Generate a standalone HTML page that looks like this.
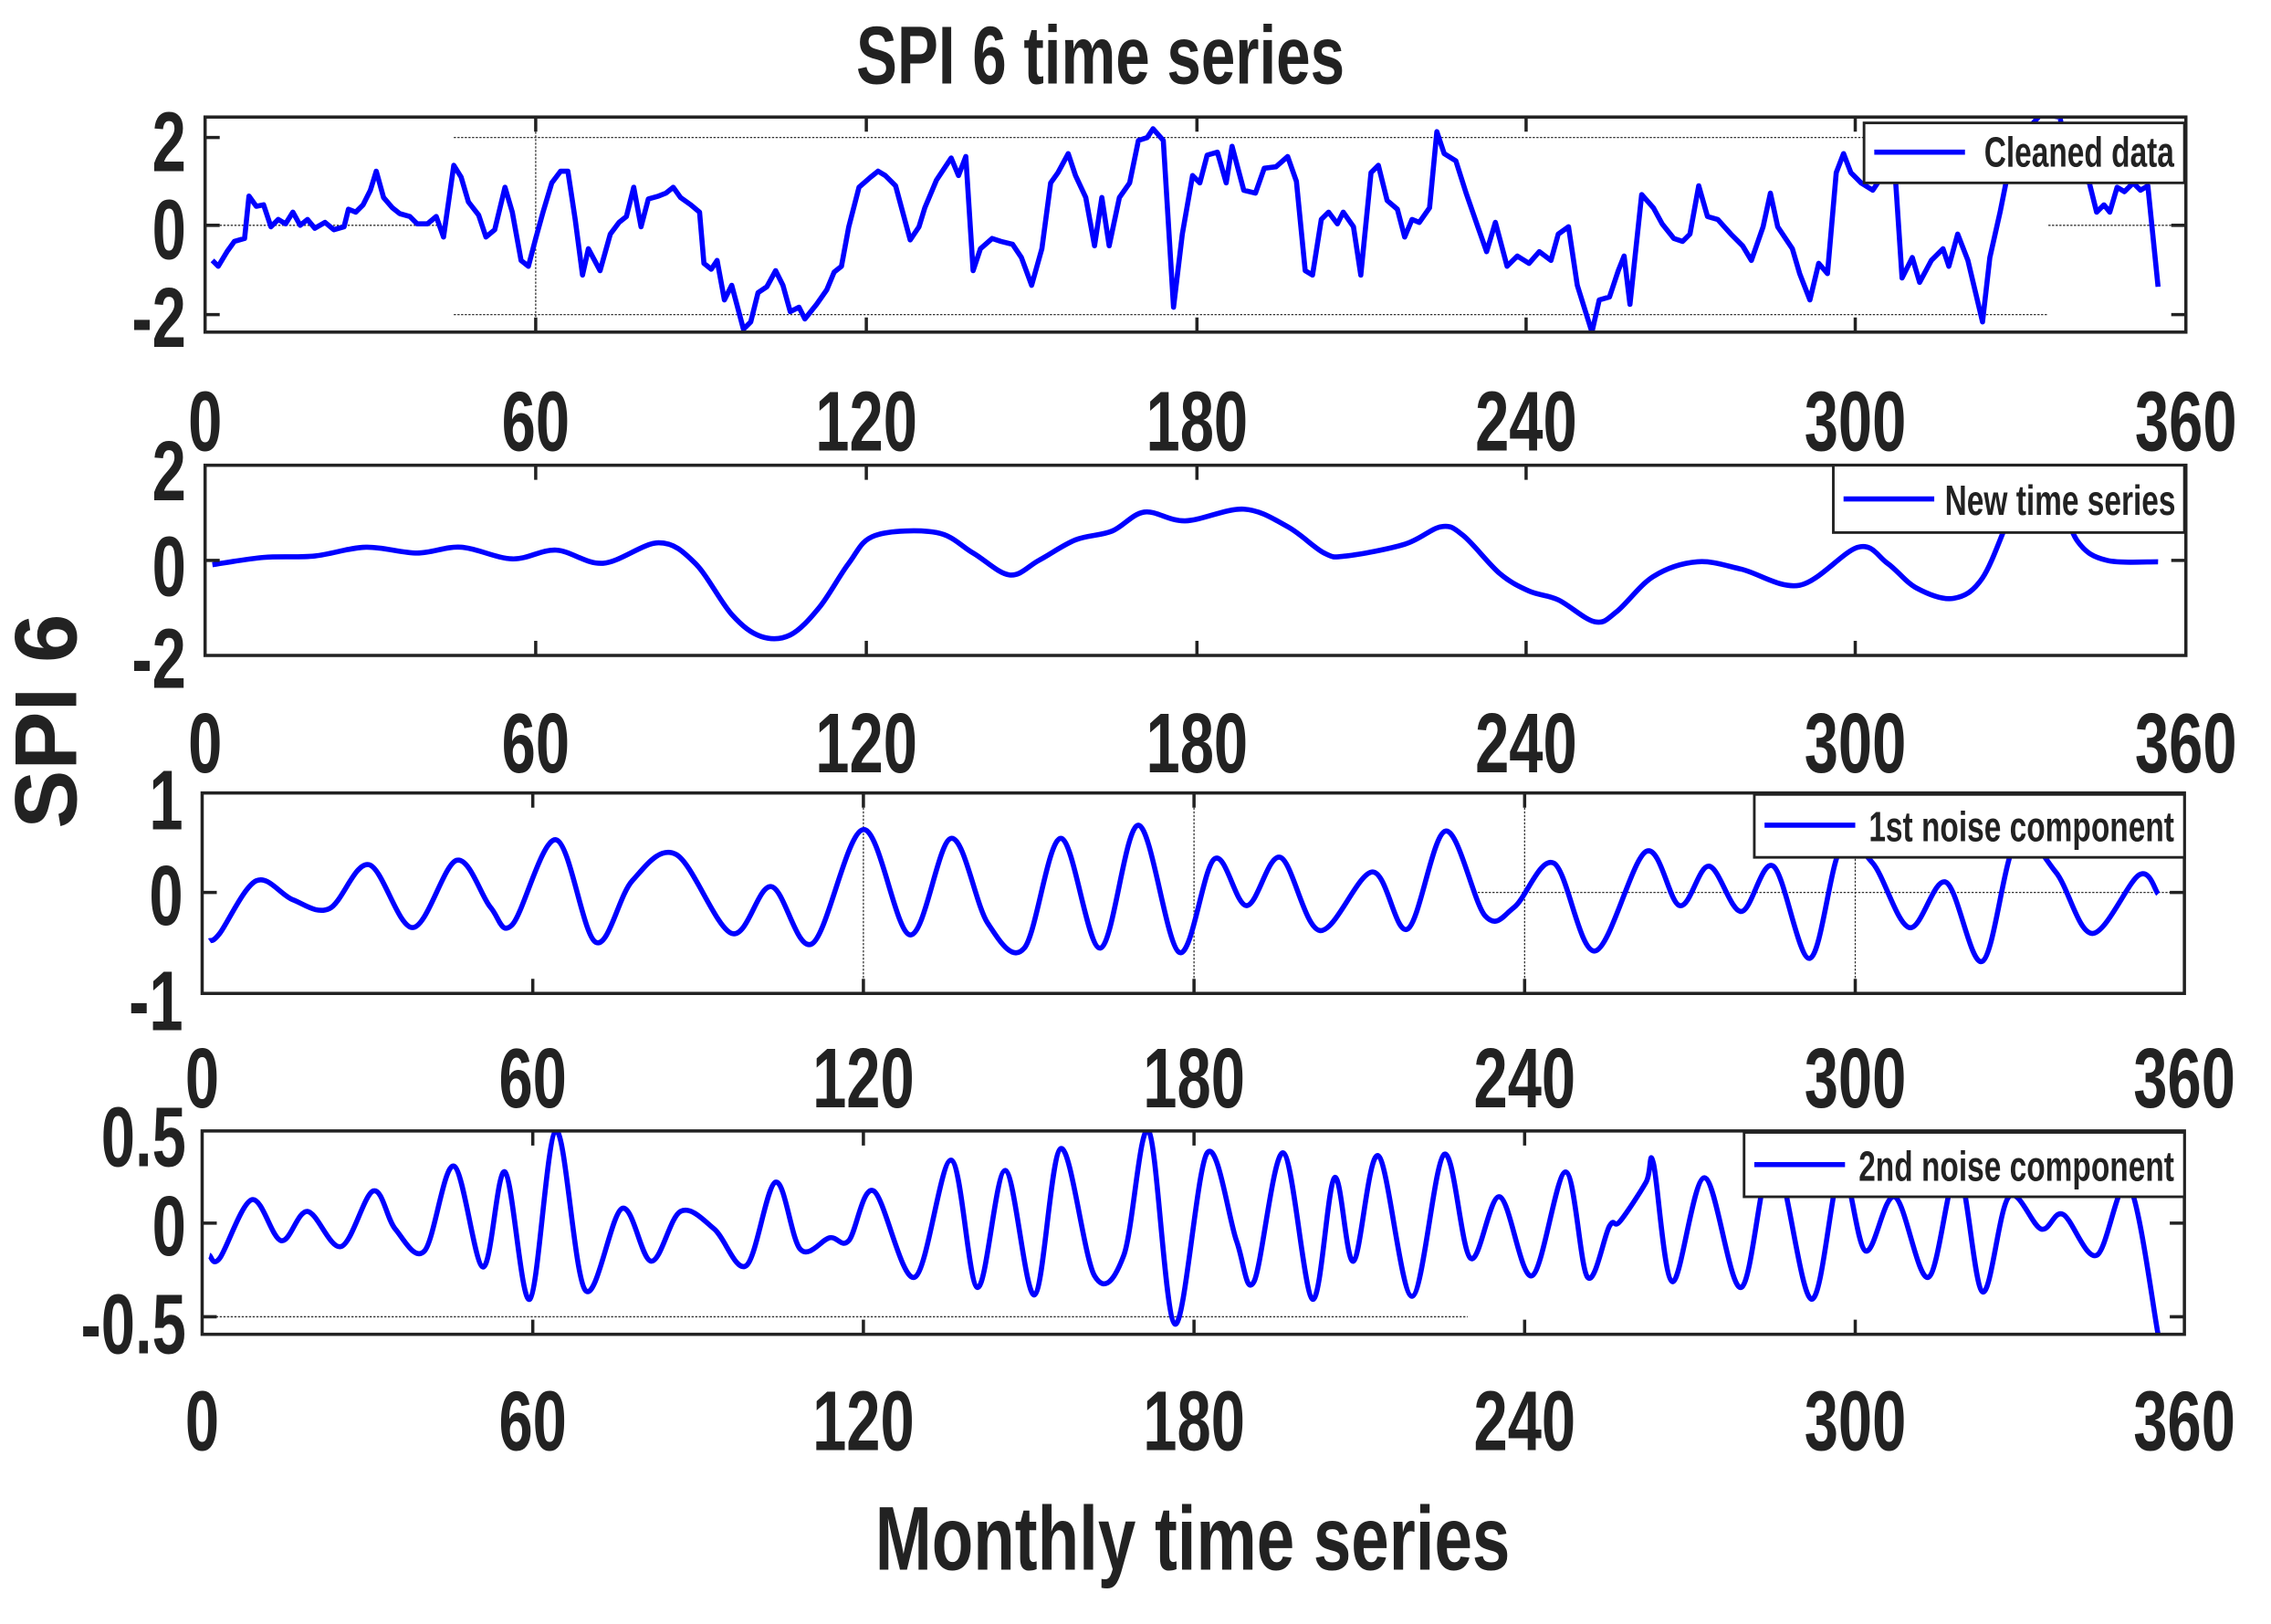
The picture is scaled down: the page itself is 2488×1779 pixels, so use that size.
<!DOCTYPE html>
<html><head><meta charset="utf-8"><style>
html,body{margin:0;padding:0;background:#fff}
svg{display:block}
text{font-family:"Liberation Sans",Arial,sans-serif;font-weight:bold;fill:#222}
</style></head><body>
<svg width="2488" height="1779" viewBox="0 0 1552 1110" xmlns="http://www.w3.org/2000/svg">
<defs>
<clipPath id="c1"><rect x="140" y="80" width="1354" height="147"/></clipPath>
<clipPath id="c2"><rect x="140" y="318" width="1354" height="130"/></clipPath>
<clipPath id="c3"><rect x="138" y="542" width="1355" height="137"/></clipPath>
<clipPath id="c4"><rect x="138" y="773" width="1355" height="139"/></clipPath>
</defs>
<g stroke="#333" stroke-width="0.8" stroke-dasharray="1.5,1" fill="none">
<line x1="310" y1="94" x2="1400" y2="94"/><line x1="310" y1="215" x2="1400" y2="215"/>
<line x1="140" y1="154" x2="300" y2="154"/><line x1="1400" y1="154" x2="1494" y2="154"/>
<line x1="366" y1="80" x2="366" y2="227"/>
<line x1="1010" y1="610" x2="1493" y2="610"/>
<line x1="590" y1="542" x2="590" y2="679"/><line x1="816" y1="542" x2="816" y2="679"/><line x1="1042" y1="542" x2="1042" y2="679"/><line x1="1268" y1="542" x2="1268" y2="679"/>
<line x1="140" y1="900" x2="1003" y2="900"/>
</g>
<g fill="none" stroke="#0000ff" stroke-width="3.5" stroke-linejoin="round">
<polyline clip-path="url(#c1)" points="145,178 149,182 155,172 160,165 167,163 170,134 175,141 180,140 185,155 190,150 195,153 200,145 205,154 210,150 215,156 222,152 228,157 235,155 238,143 243,145 248,140 253,130 257,117 262,135 268,142 273,146 280,148 285,153 292,153 298,148 303,162 310,113 315,121 320,138 327,147 332,162 338,157 345,128 350,145 356,178 361,182 366,163 371,145 377,125 383,117 388,117 393,150 398,188 402,170 410,185 417,160 423,152 428,148 433,128 438,155 443,136 450,134 455,132 460,128 465,135 472,140 478,145 481,180 486,184 490,178 495,205 500,195 508,225 513,220 518,200 524,196 530,185 535,195 540,213 546,210 550,218 558,208 565,198 570,186 575,182 580,155 587,128 595,121 600,117 605,120 612,127 622,164 628,155 632,142 640,123 650,108 655,120 660,107 665,185 670,170 678,163 684,165 692,167 698,176 705,195 712,170 718,125 723,118 730,105 735,120 742,135 748,168 753,135 758,168 765,135 772,125 778,96 784,94 788,88 795,96 802,210 808,160 815,120 820,125 825,106 832,104 838,125 842,100 850,130 858,132 864,115 872,114 880,107 886,124 892,185 897,188 903,150 908,145 914,153 918,145 925,155 930,188 937,118 942,113 948,137 955,143 960,162 965,150 970,152 977,142 982,90 987,105 995,110 1002,132 1010,155 1016,172 1022,152 1030,182 1037,175 1045,180 1052,172 1060,178 1065,160 1072,155 1078,195 1088,227 1093,205 1100,203 1106,185 1110,175 1114,208 1122,133 1130,142 1136,153 1144,163 1150,165 1155,160 1161,127 1167,148 1174,150 1183,160 1191,168 1197,178 1205,155 1210,132 1215,155 1225,170 1230,187 1237,205 1243,180 1249,187 1255,118 1260,105 1265,118 1272,125 1280,130 1288,118 1295,115 1300,190 1307,176 1312,193 1320,178 1328,170 1332,182 1338,160 1345,178 1355,220 1360,176 1367,145 1372,120 1380,95 1395,78 1408,80 1414,118 1420,120 1428,125 1433,145 1438,140 1442,145 1447,128 1452,131 1458,125 1463,130 1468,127 1475,196"/>
<path id="p2" clip-path="url(#c2)" d=""/>
<path id="p3" clip-path="url(#c3)" d=""/>
<path id="p4" clip-path="url(#c4)" d=""/>
</g>
<g fill="none" stroke="#222" stroke-width="2.2">
<rect x="140" y="80" width="1354" height="147"/>
<rect x="140" y="318" width="1354" height="130"/>
<rect x="138" y="542" width="1355" height="137"/>
<rect x="138" y="773" width="1355" height="139"/>
<path d="M366,80v10M592,80v10M818,80v10M1043,80v10M1268,80v10M366,227v-10M592,227v-10M818,227v-10M1043,227v-10M1268,227v-10M140,94h10M140,154h10M140,215h10M1494,94h-10M1494,154h-10M1494,215h-10"/>
<path d="M366,318v10M592,318v10M818,318v10M1043,318v10M1268,318v10M366,448v-10M592,448v-10M818,448v-10M1043,448v-10M1268,448v-10M140,383h10M1494,383h-10"/>
<path d="M364,542v10M590,542v10M816,542v10M1042,542v10M1268,542v10M364,679v-10M590,679v-10M816,679v-10M1042,679v-10M1268,679v-10M138,610h10M1493,610h-10"/>
<path d="M364,773v10M590,773v10M816,773v10M1042,773v10M1268,773v10M364,912v-10M590,912v-10M816,912v-10M1042,912v-10M1268,912v-10M138,836h10M138,900h10M1493,836h-10M1493,900h-10"/>
</g>
<g stroke="#222" stroke-width="1.8" fill="#fff">
<rect x="1274" y="84" width="219" height="41"/>
<rect x="1253" y="318" width="240" height="46"/>
<rect x="1199" y="543" width="294" height="43"/>
<rect x="1192" y="774" width="301" height="44"/>
</g>
<g stroke="#0000ff" stroke-width="3.5">
<line x1="1281" y1="104" x2="1343" y2="104"/>
<line x1="1260" y1="341" x2="1322" y2="341"/>
<line x1="1206" y1="564" x2="1268" y2="564"/>
<line x1="1199" y1="796" x2="1261" y2="796"/>
</g>
<g font-size="29" fill="#000">
<text transform="translate(1486,114) scale(0.72,1)" text-anchor="end">Cleaned data</text>
<text transform="translate(1487,352) scale(0.72,1)" text-anchor="end">New time series</text>
<text transform="translate(1486,575) scale(0.72,1)" text-anchor="end">1st noise component</text>
<text transform="translate(1486,807) scale(0.72,1)" text-anchor="end">2nd noise component</text>
</g>
<g font-size="58" text-anchor="middle">
<text transform="translate(140,308) scale(0.72,1)">0</text><text transform="translate(366,308) scale(0.72,1)">60</text><text transform="translate(592,308) scale(0.72,1)">120</text><text transform="translate(818,308) scale(0.72,1)">180</text><text transform="translate(1043,308) scale(0.72,1)">240</text><text transform="translate(1268,308) scale(0.72,1)">300</text><text transform="translate(1494,308) scale(0.72,1)">360</text>
<text transform="translate(140,528) scale(0.72,1)">0</text><text transform="translate(366,528) scale(0.72,1)">60</text><text transform="translate(592,528) scale(0.72,1)">120</text><text transform="translate(818,528) scale(0.72,1)">180</text><text transform="translate(1043,528) scale(0.72,1)">240</text><text transform="translate(1268,528) scale(0.72,1)">300</text><text transform="translate(1494,528) scale(0.72,1)">360</text>
<text transform="translate(138,757) scale(0.72,1)">0</text><text transform="translate(364,757) scale(0.72,1)">60</text><text transform="translate(590,757) scale(0.72,1)">120</text><text transform="translate(816,757) scale(0.72,1)">180</text><text transform="translate(1042,757) scale(0.72,1)">240</text><text transform="translate(1268,757) scale(0.72,1)">300</text><text transform="translate(1493,757) scale(0.72,1)">360</text>
<text transform="translate(138,991) scale(0.72,1)">0</text><text transform="translate(364,991) scale(0.72,1)">60</text><text transform="translate(590,991) scale(0.72,1)">120</text><text transform="translate(816,991) scale(0.72,1)">180</text><text transform="translate(1042,991) scale(0.72,1)">240</text><text transform="translate(1268,991) scale(0.72,1)">300</text><text transform="translate(1493,991) scale(0.72,1)">360</text>
</g>
<g font-size="58" text-anchor="end">
<text transform="translate(127,117) scale(0.72,1)">2</text><text transform="translate(127,177) scale(0.72,1)">0</text><text transform="translate(127,237) scale(0.72,1)">-2</text>
<text transform="translate(127,342) scale(0.72,1)">2</text><text transform="translate(127,407) scale(0.72,1)">0</text><text transform="translate(127,470) scale(0.72,1)">-2</text>
<text transform="translate(125,567) scale(0.72,1)">1</text><text transform="translate(125,632) scale(0.72,1)">0</text><text transform="translate(125,704) scale(0.72,1)">-1</text>
<text transform="translate(127,797) scale(0.72,1)">0.5</text><text transform="translate(127,858) scale(0.72,1)">0</text><text transform="translate(127,925) scale(0.72,1)">-0.5</text>
</g>
<text transform="translate(752,57) scale(0.75,1)" font-size="56" text-anchor="middle" fill="#000">SPI 6 time series</text>
<text transform="translate(815,1073) scale(0.75,1)" font-size="62" text-anchor="middle">Monthly time series</text>
<text transform="translate(52,493) rotate(-90)" font-size="60" text-anchor="middle">SPI 6</text>
</svg>
<script>
function smooth(s){
  var a=s.trim().split(/\s+/).map(function(p){return p.split(',').map(Number);});
  var d='M'+a[0][0]+','+a[0][1];
  for(var i=0;i<a.length-1;i++){
    var p0=a[i-1]||a[i],p1=a[i],p2=a[i+1],p3=a[i+2]||a[i+1];
    var c1x=p1[0]+(p2[0]-p0[0])/6,c1y=p1[1]+(p2[1]-p0[1])/6;
    var c2x=p2[0]-(p3[0]-p1[0])/6,c2y=p2[1]-(p3[1]-p1[1])/6;
    d+=' C'+c1x.toFixed(1)+','+c1y.toFixed(1)+' '+c2x.toFixed(1)+','+c2y.toFixed(1)+' '+p2[0]+','+p2[1];
  }
  return d;
}
document.getElementById('p2').setAttribute('d',smooth("145,386 180,381 215,380 250,374 285,378 315,374 350,382 380,376 412,385 450,371 475,385 500,420 520,435 540,434 560,415 580,385 598,366 640,364 665,378 690,393 710,383 735,369 760,363 782,350 810,356 850,348 880,360 905,378 920,380 960,372 985,360 1000,366 1025,392 1045,404 1065,410 1090,425 1105,418 1130,394 1160,384 1190,389 1230,400 1270,374 1290,385 1310,402 1335,409 1355,395 1375,350 1390,325 1405,335 1420,370 1440,383 1475,384"));
document.getElementById('p3').setAttribute('d',smooth("143,643 150,638 175,602 200,615 225,621 252,591 282,634 312,588 335,620 350,632 380,574 407,644 432,602 462,584 500,638 527,606 555,645 590,567 622,639 650,573 675,631 700,648 725,573 752,648 778,564 806,651 830,587 852,619 875,586 902,636 938,596 962,635 988,568 1015,626 1035,620 1062,590 1090,650 1125,582 1148,619 1168,592 1190,623 1212,592 1237,655 1258,580 1280,590 1305,634 1330,603 1355,657 1378,575 1405,596 1430,638 1462,598 1475,611"));
document.getElementById('p4').setAttribute('d',smooth("143,858 150,860 172,820 192,848 210,828 233,852 255,814 270,840 290,855 310,797 330,866 345,801 362,888 380,773 400,882 425,826 445,862 465,828 488,840 510,865 530,808 547,854 567,846 580,848 597,814 625,873 650,793 668,880 687,800 707,885 725,785 748,872 768,858 785,773 803,905 825,788 845,848 857,876 877,788 897,888 912,805 925,862 942,790 965,886 987,789 1005,860 1025,818 1047,872 1070,801 1085,873 1100,838 1107,835 1125,808 1130,795 1143,876 1165,805 1190,880 1212,790 1238,888 1258,800 1275,855 1295,818 1318,873 1338,800 1355,883 1373,818 1395,840 1410,830 1433,858 1455,810 1475,912"));
</script>
</body></html>
